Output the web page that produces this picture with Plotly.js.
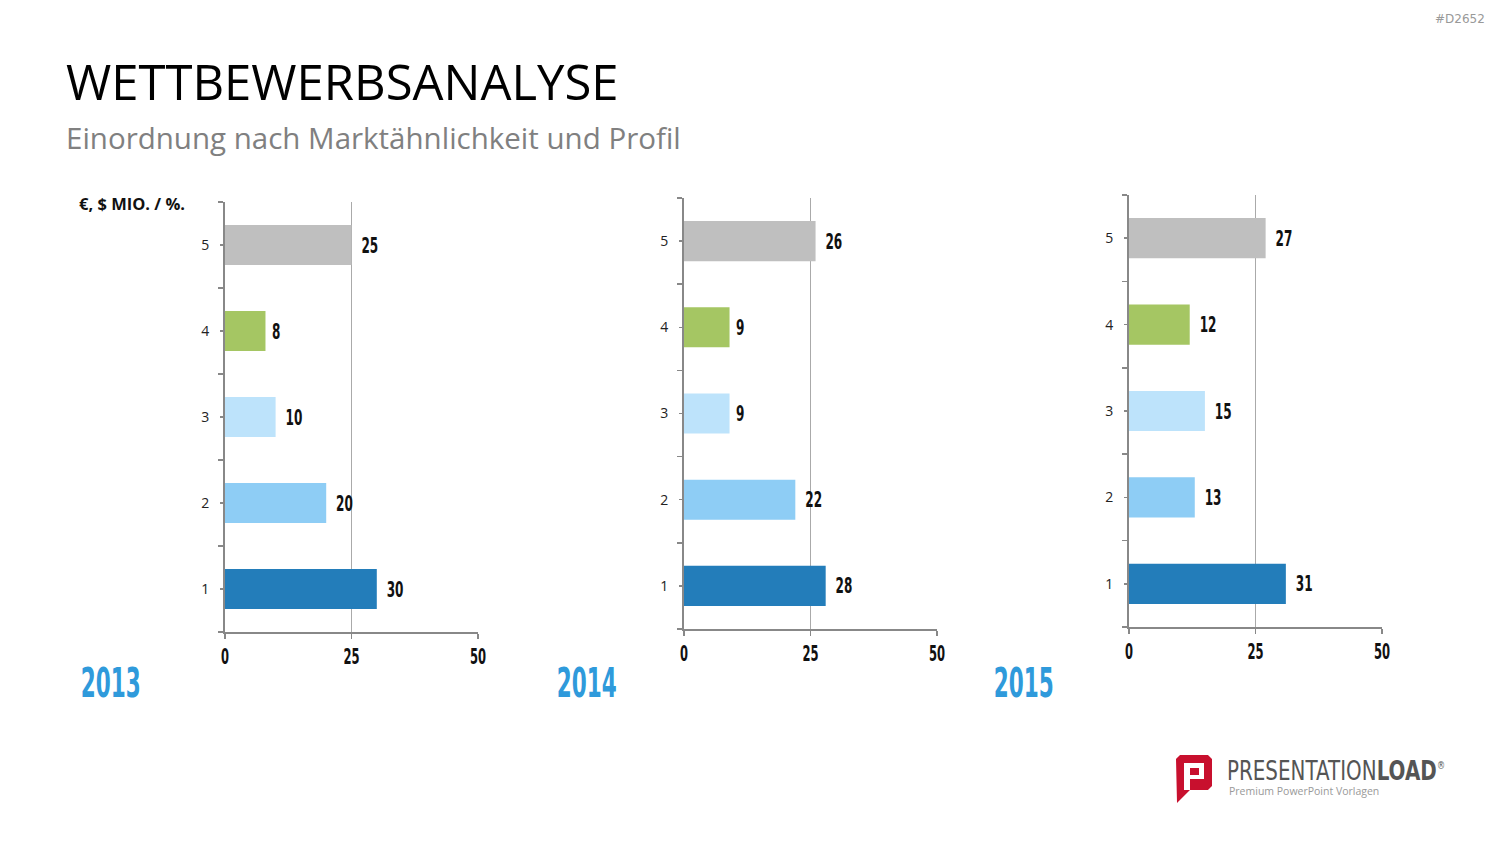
<!DOCTYPE html>
<html>
<head>
<meta charset="utf-8">
<script src="https://cdn.plot.ly/plotly-3.0.1.min.js"></script>
<style>html,body{margin:0;padding:0;background:#fff;}#chart{width:1500px;height:844px;}</style>
</head>
<body>
<div id="chart"></div>
<script>
// ---- data ----
const years = ['2013', '2014', '2015'];
const categories = [1, 2, 3, 4, 5];
const values2013 = [30, 20, 10, 8, 25];
const values2014 = [28, 22, 9, 9, 26];
const values2015 = [31, 13, 15, 12, 27];
const barColors = ['#237DBA', '#8ECDF5', '#BDE3FB', '#A5C663', '#BFBFBF'];
const xTicks = [0, 25, 50];
const unitLabel = '€, $ MIO. / %.';
const titleText = 'WETTBEWERBSANALYSE';
const subtitleText = 'Einordnung nach Marktähnlichkeit und Profil';
const logoText = 'PRESENTATIONLOAD';

const W = 1500, H = 844;
const px = x => x / W;
const py = y => 1 - y / H;
const numFont = '"DejaVu Sans", sans-serif';

const series = [values2013, values2014, values2015];
// plot areas in px: [left, right, top, bottom]
const boxes = [[225, 478, 202, 632], [684, 937, 198, 629], [1129, 1382, 195, 627]];

const data = [];
const layout = {
  width: W, height: H,
  margin: {l: 0, r: 0, t: 0, b: 0},
  paper_bgcolor: '#fff', plot_bgcolor: 'rgba(0,0,0,0)',
  showlegend: false,
  bargap: 0.535,
  annotations: [], shapes: []
};

series.forEach((vals, i) => {
  const n = i === 0 ? '' : String(i + 1);
  data.push({
    type: 'bar', orientation: 'h',
    x: vals, y: categories,
    xaxis: 'x' + n, yaxis: 'y' + n,
    marker: {color: barColors, line: {width: 0}},
    text: vals.map(v => String(v)),
    texttemplate: '%{text}',
    textposition: 'outside',
    cliponaxis: false,
    textfont: {family: numFont, size: 22, color: '#111', weight: 'bold'},
    hoverinfo: 'skip'
  });
  const b = boxes[i];
  layout['xaxis' + n] = {
    domain: [px(b[0]), px(b[1])], range: [0, 50],
    anchor: 'y' + n,
    tickvals: xTicks, ticktext: xTicks.map(String),
    ticks: 'outside', ticklen: 5, tickcolor: '#888', tickwidth: 1.5,
    showgrid: true, gridcolor: '#AAAAAA', gridwidth: 1,
    showline: true, linecolor: '#888', linewidth: 2,
    zeroline: false,
    tickfont: {family: numFont, size: 21, color: '#111', weight: 'bold'},
    fixedrange: true
  };
  layout['yaxis' + n] = {
    domain: [py(b[3]), py(b[2])], range: [0.5, 5.5],
    anchor: 'x' + n,
    tickvals: categories, ticktext: categories.map(String),
    ticks: 'outside', ticklen: 3, tickcolor: '#888', tickwidth: 1.5,
    minor: {tick0: 0.5, dtick: 1, ticks: 'outside', ticklen: 5, tickcolor: '#888', tickwidth: 1.5, showgrid: false},
    showgrid: false,
    showline: true, linecolor: '#888', linewidth: 2,
    zeroline: false,
    ticklabelstandoff: 8,
    tickfont: {family: '"Open Sans", sans-serif', size: 14, color: '#222'},
    fixedrange: true
  };
});

// year labels
const yearPos = [[110, 683], [586, 683], [1023, 683]];
years.forEach((yr, i) => {
  layout.annotations.push({
    xref: 'paper', yref: 'paper', x: px(yearPos[i][0]), y: py(yearPos[i][1]),
    xanchor: 'center', yanchor: 'middle', showarrow: false,
    text: yr, font: {family: numFont, size: 40, color: '#2F9ADB', weight: 'bold'}
  });
});

// titles
layout.annotations.push({
  xref: 'paper', yref: 'paper', x: px(64), y: py(81), xanchor: 'left', yanchor: 'middle',
  showarrow: false, text: titleText,
  font: {family: '"Open Sans", sans-serif', size: 49, color: '#000'}
});
layout.annotations.push({
  xref: 'paper', yref: 'paper', x: px(64), y: py(137), xanchor: 'left', yanchor: 'middle',
  showarrow: false, text: subtitleText,
  font: {family: '"Open Sans", sans-serif', size: 29.5, color: '#808080'}
});
layout.annotations.push({
  xref: 'paper', yref: 'paper', x: px(77), y: py(204), xanchor: 'left', yanchor: 'middle',
  showarrow: false, text: '<b>' + unitLabel + '</b>',
  font: {family: '"Open Sans", sans-serif', size: 16.5, color: '#111'}
});
layout.annotations.push({
  xref: 'paper', yref: 'paper', x: px(1487), y: py(19), xanchor: 'right', yanchor: 'middle',
  showarrow: false, text: '#D2652',
  font: {family: '"DejaVu Sans", sans-serif', size: 12, color: '#999'}
});

// logo
function pathPx(pts) {
  return pts.map((p, k) => (k === 0 ? 'M' : 'L') + px(p[0]).toFixed(5) + ',' + py(p[1]).toFixed(5)).join(' ') + ' Z';
}
layout.shapes.push({
  type: 'path', xref: 'paper', yref: 'paper',
  path: pathPx([[1180, 755], [1208, 755], [1212, 759], [1212, 786], [1208, 790], [1190, 790], [1177, 803], [1176, 759]]),
  fillcolor: '#C8102E', line: {width: 0}
});
layout.shapes.push({
  type: 'path', xref: 'paper', yref: 'paper',
  path: pathPx([[1184, 763], [1204, 763], [1204, 779], [1190, 779], [1190, 790], [1184, 790]]),
  fillcolor: '#fff', line: {width: 0}
});
layout.shapes.push({
  type: 'path', xref: 'paper', yref: 'paper',
  path: pathPx([[1190, 768], [1199, 768], [1199, 775], [1190, 775]]),
  fillcolor: '#C8102E', line: {width: 0}
});
layout.annotations.push({
  xref: 'paper', yref: 'paper', x: px(1227 + 218 / 2), y: py(770), xanchor: 'center', yanchor: 'middle',
  showarrow: false, text: 'PRESENTATION<b>LOAD</b><sup><span style="font-size:11px">®</span></sup>',
  font: {family: numFont, size: 27, color: '#555'}
});
layout.annotations.push({
  xref: 'paper', yref: 'paper', x: px(1227), y: py(791), xanchor: 'left', yanchor: 'middle',
  showarrow: false, text: 'Premium PowerPoint Vorlagen',
  font: {family: '"Open Sans", sans-serif', size: 10.5, color: '#999'}
});

// narrow a text element (no condensed face is installed) by squeezing its glyphs
function squeeze(el, factor, targetWidth) {
  const w = el.getComputedTextLength();
  if (!w) return;
  const tw = targetWidth || w * factor;
  el.setAttribute('textLength', tw.toFixed(1));
  el.setAttribute('lengthAdjust', 'spacingAndGlyphs');
}

Plotly.newPlot('chart', data, layout, {displayModeBar: false, staticPlot: true}).then(gd => {
  gd.querySelectorAll('.bartext').forEach(el => squeeze(el, 0.55));
  gd.querySelectorAll('.xtick text, .x2tick text, .x3tick text').forEach(el => squeeze(el, 0.55));
  gd.querySelectorAll('.annotation-text').forEach(el => {
    const t = el.textContent;
    if (years.includes(t)) squeeze(el, 0, 60);
    else if (t.indexOf(logoText) === 0) squeeze(el, 0, 218);
  });
});
</script>
</body>
</html>
